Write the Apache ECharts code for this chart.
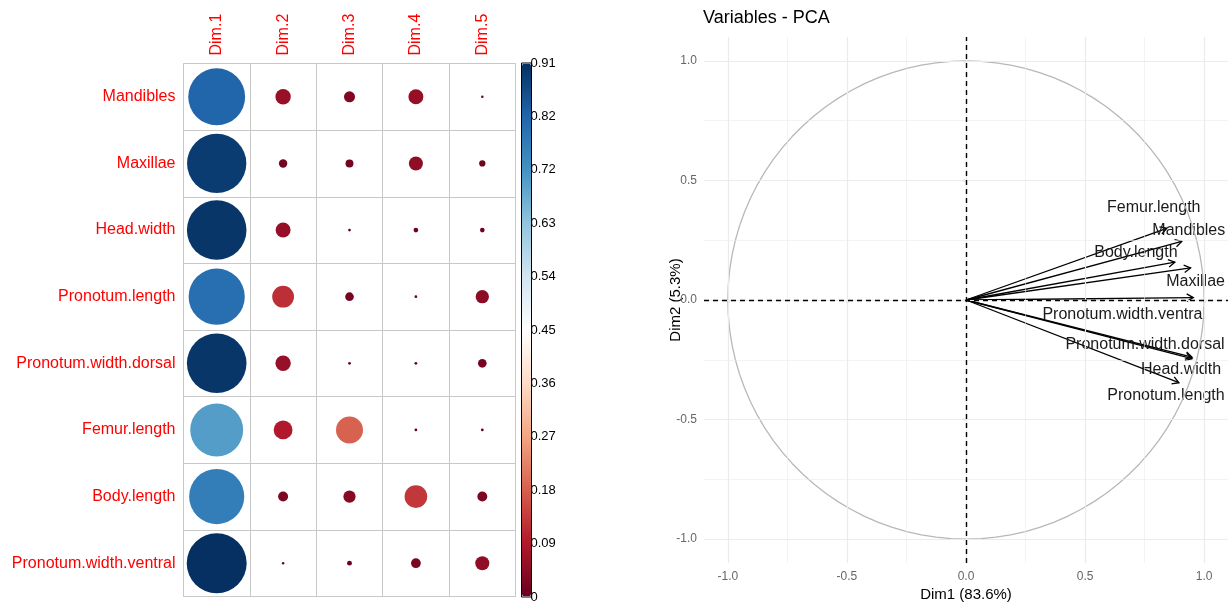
<!DOCTYPE html>
<html>
<head>
<meta charset="utf-8">
<title>Variables - PCA</title>
<script src="https://cdn.jsdelivr.net/npm/echarts@6/dist/echarts.min.js"></script>
<style>
  html, body { margin: 0; padding: 0; background: #fff; }
  #chart { width: 1231px; height: 602px; }
</style>
</head>
<body>
<div id="chart"></div>
<script>
// Variables and dimensions of the PCA
const variables = ['Mandibles', 'Maxillae', 'Head.width', 'Pronotum.length',
  'Pronotum.width.dorsal', 'Femur.length', 'Body.length', 'Pronotum.width.ventral'];
const dims = ['Dim.1', 'Dim.2', 'Dim.3', 'Dim.4', 'Dim.5'];

// Quality of representation (cos2) of each variable, one array per dimension
const cos2Dim1 = [0.82, 0.89, 0.90, 0.80, 0.90, 0.71, 0.77, 0.91];
const cos2Dim2 = [0.060, 0.018, 0.057, 0.120, 0.060, 0.090, 0.025, 0.0001];
const cos2Dim3 = [0.031, 0.016, 0.002, 0.019, 0.002, 0.185, 0.038, 0.006];
const cos2Dim4 = [0.057, 0.050, 0.0055, 0.002, 0.002, 0.002, 0.130, 0.024];
const cos2Dim5 = [0.001, 0.010, 0.0055, 0.045, 0.019, 0.002, 0.025, 0.050];
const cos2ByDim = [cos2Dim1, cos2Dim2, cos2Dim3, cos2Dim4, cos2Dim5];

// Colour bar range and its tick labels (bottom to top)
const cos2Max = 0.91;
const colorbarTicks = ['0', '0.09', '0.18', '0.27', '0.36', '0.45', '0.54', '0.63', '0.72', '0.82', '0.91'];

// Variable coordinates on the correlation circle
const coordDim1 = [0.906, 0.943, 0.949, 0.894, 0.949, 0.843, 0.877, 0.954];
const coordDim2 = [0.245, 0.134, -0.239, -0.346, -0.245, 0.300, 0.158, 0.010];

// Axis ticks and grid of the correlation circle panel
const circleTicks = [-1, -0.5, 0, 0.5, 1];
const circleMinorGrid = [-0.75, -0.25, 0.25, 0.75];

// Pixel offsets of each variable label from its arrow tip
const labelOffsets = [[7, -11], [5, 14], [-11, 12], [-13, 13], [-47, -14], [-13, -21], [-39, -10], [-69, 17]];

const FONT = '"Liberation Sans", Arial, Helvetica, sans-serif';
const RdBu = ['#67001F', '#B2182B', '#D6604D', '#F4A582', '#FDDBC7', '#FFFFFF',
  '#D1E5F0', '#92C5DE', '#4393C3', '#2166AC', '#053061'];

const cellData = [];
cos2ByDim.forEach((arr, d) => {
  arr.forEach((v, i) => cellData.push([dims[d], variables[i], v]));
});

const arrowData = variables.map((n, i) => [coordDim1[i], coordDim2[i]]);

// Unit circle outline
const circlePts = [];
for (let k = 0; k <= 100; k++) {
  const t = 2 * Math.PI * k / 100;
  circlePts.push([Math.cos(t), Math.sin(t)]);
}

const chart = echarts.init(document.getElementById('chart'), null, { renderer: 'canvas' });

const option = {
  animation: false,
  backgroundColor: '#fff',
  textStyle: { fontFamily: FONT },
  title: {
    text: 'Variables - PCA',
    left: 703, top: 9, padding: 0,
    textStyle: { fontSize: 18, fontWeight: 'normal', color: '#000', fontFamily: FONT }
  },
  grid: [
    { left: 183.5, top: 63.5, width: 332, height: 533, show: true, outerBoundsMode: 'none',
      borderColor: '#c8c8c8', borderWidth: 1, backgroundColor: 'transparent' },
    { left: 704, top: 37, width: 524, height: 526, outerBoundsMode: 'none' },
    { left: 521.5, top: 63, width: 10, height: 534, show: true, outerBoundsMode: 'none',
      borderColor: '#000', borderWidth: 1, backgroundColor: 'transparent' }
  ],
  visualMap: {
    type: 'continuous',
    seriesIndex: 0,
    dimension: 2,
    min: 0, max: cos2Max,
    left: 522, top: 63.5,
    itemWidth: 9, itemHeight: 533,
    padding: 0,
    calculable: false,
    showLabel: false,
    text: null,
    hoverLink: false,
    inRange: { color: RdBu }
  },
  xAxis: [
    { gridIndex: 0, type: 'category', data: dims, position: 'top',
      axisLine: { show: false }, axisTick: { show: false },
      axisLabel: { rotate: -90, color: '#FF0000', fontSize: 16, margin: 8, fontFamily: FONT },
      splitLine: { show: true, lineStyle: { color: '#c8c8c8', width: 1 } } },
    { gridIndex: 1, type: 'value', min: -1.1, max: 1.1,
      name: 'Dim1 (83.6%)', nameLocation: 'middle', nameGap: 24, nameMoveOverlap: false,
      nameTextStyle: { fontSize: 15, color: '#000', fontFamily: FONT },
      axisLine: { show: false },
      axisTick: { show: true, length: 3, customValues: circleTicks, lineStyle: { color: '#333', width: 1.2 } },
      axisLabel: { customValues: circleTicks, color: '#666', fontSize: 12, margin: 8,
        formatter: v => Number(v).toFixed(1), fontFamily: FONT },
      splitLine: { show: false } },
    { gridIndex: 2, type: 'value', show: false }
  ],
  yAxis: [
    { gridIndex: 0, type: 'category', data: variables, inverse: true,
      axisLine: { show: false }, axisTick: { show: false },
      axisLabel: { color: '#FF0000', fontSize: 16, margin: 8, fontFamily: FONT },
      splitLine: { show: true, lineStyle: { color: '#c8c8c8', width: 1 } } },
    { gridIndex: 1, type: 'value', min: -1.1, max: 1.1,
      name: 'Dim2 (5.3%)', nameLocation: 'middle', nameGap: 21, nameMoveOverlap: false,
      nameTextStyle: { fontSize: 15, color: '#000', fontFamily: FONT },
      axisLine: { show: false },
      axisTick: { show: true, length: 3, customValues: circleTicks, lineStyle: { color: '#333', width: 1.2 } },
      axisLabel: { customValues: circleTicks, color: '#666', fontSize: 12, margin: 7,
        formatter: v => Number(v).toFixed(1), fontFamily: FONT },
      splitLine: { show: false } },
    { gridIndex: 2, type: 'category', data: colorbarTicks, boundaryGap: false, position: 'right',
      axisLine: { show: false }, axisTick: { show: false },
      axisLabel: { color: '#000', fontSize: 13, margin: -1, interval: 0, padding: [6, 0, 0, 0], fontFamily: FONT },
      splitLine: { show: false } }
  ],
  series: [
    {
      // cos2 circles
      type: 'scatter', xAxisIndex: 0, yAxisIndex: 0,
      data: cellData,
      symbol: 'circle',
      symbolSize: val => Math.max(2.5, 0.9 * 66.6 * Math.sqrt(val[2] / cos2Max)),
      itemStyle: { opacity: 1 },
      silent: true
    },
    {
      // panel grid lines
      type: 'line', xAxisIndex: 1, yAxisIndex: 1, data: [], silent: true,
      markLine: {
        silent: true, symbol: 'none', label: { show: false }, animation: false,
        data: [
          ...circleMinorGrid.map(v => ({ xAxis: v, lineStyle: { color: '#EBEBEB', width: 0.6, type: 'solid' } })),
          ...circleMinorGrid.map(v => ({ yAxis: v, lineStyle: { color: '#EBEBEB', width: 0.6, type: 'solid' } })),
          ...circleTicks.map(v => ({ xAxis: v, lineStyle: { color: '#EBEBEB', width: 1.2, type: 'solid' } })),
          ...circleTicks.map(v => ({ yAxis: v, lineStyle: { color: '#EBEBEB', width: 1.2, type: 'solid' } }))
        ]
      }
    },
    {
      // correlation circle
      type: 'line', xAxisIndex: 1, yAxisIndex: 1, data: circlePts,
      showSymbol: false, symbol: 'none', smooth: false, silent: true,
      lineStyle: { color: '#B8B8B8', width: 1.3 },
      markLine: {
        silent: true, symbol: 'none', label: { show: false }, animation: false,
        lineStyle: { color: '#000', width: 1.4, type: [5, 4] },
        data: [{ xAxis: 0 }, { yAxis: 0 }]
      }
    },
    {
      // variable arrows
      type: 'custom', xAxisIndex: 1, yAxisIndex: 1, data: arrowData, silent: true,
      renderItem: (params, api) => {
        const tip = api.coord([api.value(0), api.value(1)]);
        const o = api.coord([0, 0]);
        const ang = Math.atan2(tip[1] - o[1], tip[0] - o[0]);
        const L = 7.5, a = Math.PI / 6;
        const p1 = [tip[0] - L * Math.cos(ang - a), tip[1] - L * Math.sin(ang - a)];
        const p2 = [tip[0] - L * Math.cos(ang + a), tip[1] - L * Math.sin(ang + a)];
        return {
          type: 'group',
          children: [
            { type: 'line', shape: { x1: o[0], y1: o[1], x2: tip[0], y2: tip[1] },
              style: { stroke: '#000', lineWidth: 1.3 } },
            { type: 'polyline', shape: { points: [p1, tip, p2] },
              style: { stroke: '#000', fill: null, lineWidth: 1.3 } }
          ]
        };
      }
    },
    {
      // variable names
      type: 'custom', xAxisIndex: 1, yAxisIndex: 1, data: arrowData, silent: true,
      renderItem: (params, api) => {
        const tip = api.coord([api.value(0), api.value(1)]);
        const off = labelOffsets[params.dataIndex];
        return {
          type: 'text',
          x: tip[0] + off[0], y: tip[1] + off[1],
          style: {
            text: variables[params.dataIndex],
            fill: '#1a1a1a', fontSize: 16, fontFamily: FONT,
            align: 'center', verticalAlign: 'middle'
          }
        };
      }
    }
  ]
};

chart.setOption(option);
</script>
</body>
</html>
